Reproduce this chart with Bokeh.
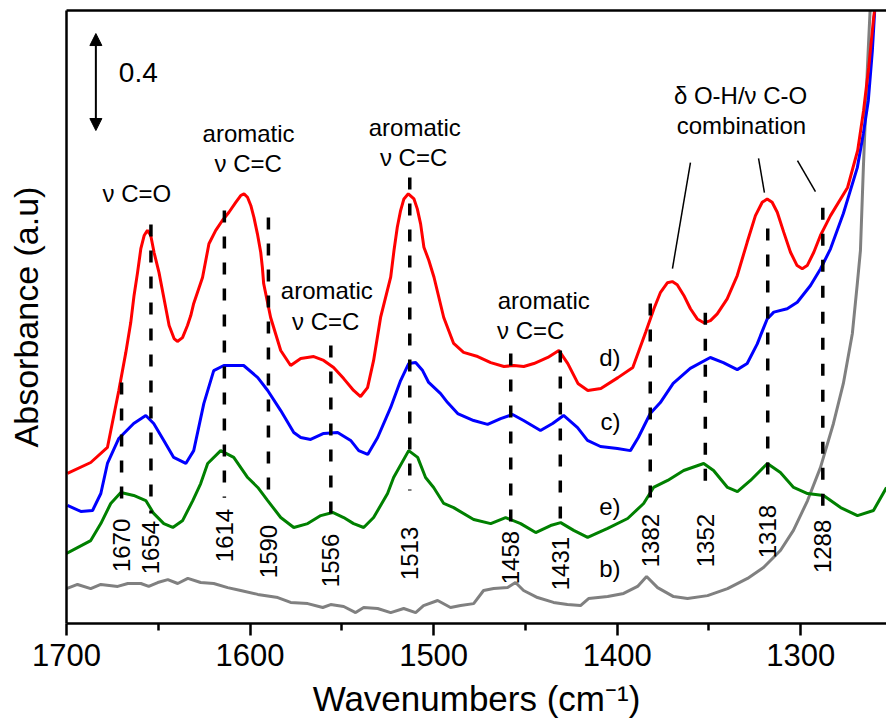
import math

from bokeh.plotting import figure
from bokeh.models import (Range1d, FixedTicker, LinearAxis, Arrow, NormalHead,
                          ColumnDataSource)
from bokeh.core.properties import value
from bokeh.embed import file_html
from bokeh.resources import INLINE

FONT = "Liberation Sans"

# ---------------------------------------------------------------- spectra
# d) red
wn_d = [1699.5, 1686.8, 1677.7, 1671.5, 1667.7, 1665.0, 1663.2, 1661.3, 1659.5, 1657.7,
        1655.9, 1654.1, 1652.3, 1649.6, 1646.9, 1644.1, 1641.4, 1639.6, 1636.8, 1634.1,
        1632.3, 1630.7, 1625.9, 1622.4, 1618.7, 1615.1, 1611.5, 1607.8, 1605.1, 1603.3,
        1601.4, 1599.6, 1597.9, 1596.0, 1594.2, 1593.3, 1592.6, 1588.8, 1583.3, 1577.9,
        1572.4, 1565.3, 1559.9, 1554.5, 1549.0, 1543.6, 1539.8, 1536.0, 1532.7, 1528.9,
        1523.4, 1521.6, 1519.8, 1518.0, 1516.2, 1513.8, 1510.7, 1508.9, 1507.1, 1505.3,
        1502.6, 1499.8, 1494.5, 1489.1, 1483.7, 1476.0, 1468.9, 1461.7, 1456.3, 1450.9,
        1445.4, 1437.8, 1431.8, 1426.9, 1421.4, 1416.0, 1408.9, 1399.6, 1391.5, 1384.5,
        1380.0, 1376.4, 1372.7, 1370.0, 1367.3, 1363.7, 1360.1, 1356.4, 1352.8, 1349.2,
        1345.5, 1340.1, 1334.6, 1329.2, 1324.7, 1321.0, 1318.3, 1315.6, 1312.8, 1309.3,
        1305.6, 1302.0, 1299.2, 1296.5, 1292.9, 1289.3, 1285.6, 1283.8, 1274.5, 1269.0,
        1265.8, 1263.0, 1260.3, 1258.7]
abs_d = [0.619, 0.664, 0.726, 0.961, 1.117, 1.241, 1.353, 1.447, 1.546, 1.600,
         1.621, 1.600, 1.530, 1.447, 1.340, 1.229, 1.175, 1.163, 1.179, 1.229,
         1.270, 1.320, 1.427, 1.566, 1.621, 1.662, 1.696, 1.737, 1.765, 1.772,
         1.758, 1.724, 1.675, 1.607, 1.531, 1.469, 1.402, 1.262, 1.126, 1.064,
         1.093, 1.101, 1.085, 1.056, 1.010, 0.961, 0.936, 0.973, 1.085, 1.262,
         1.428, 1.538, 1.634, 1.703, 1.751, 1.772, 1.751, 1.710, 1.648, 1.552,
         1.497, 1.428, 1.262, 1.155, 1.118, 1.101, 1.076, 1.060, 1.064, 1.060,
         1.072, 1.097, 1.126, 1.072, 0.990, 0.961, 0.969, 1.014, 1.056, 1.201,
         1.298, 1.366, 1.405, 1.410, 1.397, 1.353, 1.298, 1.256, 1.240, 1.249,
         1.277, 1.339, 1.435, 1.572, 1.682, 1.737, 1.751, 1.737, 1.696, 1.614,
         1.531, 1.476, 1.463, 1.476, 1.531, 1.600, 1.655, 1.682, 1.798, 1.951,
         2.115, 2.293, 2.499, 2.590]

# c) blue
wn_c = [1699.5, 1692.2, 1685.8, 1681.3, 1677.7, 1671.5, 1663.4, 1656.8, 1652.5, 1647.0,
        1641.6, 1635.0, 1630.7, 1625.2, 1619.8, 1614.3, 1603.5, 1595.8, 1590.4, 1583.3,
        1576.2, 1572.4, 1567.0, 1559.9, 1552.3, 1545.2, 1540.8, 1535.9, 1530.5, 1523.4,
        1518.0, 1513.6, 1509.8, 1506.0, 1502.7, 1496.2, 1492.4, 1486.9, 1478.2, 1470.6,
        1463.5, 1457.0, 1451.0, 1441.8, 1435.2, 1429.2, 1421.6, 1416.2, 1409.1, 1399.9,
        1392.8, 1388.5, 1382.0, 1376.5, 1369.5, 1360.2, 1349.3, 1342.2, 1334.6, 1329.2,
        1323.7, 1321.9, 1318.3, 1314.7, 1307.4, 1301.9, 1294.7, 1289.2, 1283.8, 1276.8,
        1269.2, 1265.9, 1263.2, 1261.0, 1259.4]
abs_c = [0.487, 0.462, 0.466, 0.536, 0.660, 0.763, 0.825, 0.858, 0.825, 0.755,
         0.685, 0.660, 0.713, 0.907, 1.043, 1.064, 1.064, 1.014, 0.961, 0.878,
         0.788, 0.767, 0.759, 0.784, 0.788, 0.755, 0.713, 0.697, 0.767, 0.891,
         1.002, 1.072, 1.076, 1.043, 0.994, 0.948, 0.911, 0.866, 0.837, 0.821,
         0.845, 0.862, 0.837, 0.796, 0.825, 0.858, 0.808, 0.755, 0.730, 0.722,
         0.713, 0.767, 0.866, 0.911, 0.990, 1.052, 1.097, 1.076, 1.047, 1.072,
         1.153, 1.188, 1.256, 1.284, 1.298, 1.325, 1.394, 1.463, 1.545, 1.691,
         1.880, 2.021, 2.157, 2.363, 2.569]

# e) green
wn_e = [1700.0, 1686.8, 1681.3, 1675.9, 1670.4, 1663.4, 1656.8, 1652.5, 1647.0, 1642.1,
        1636.7, 1631.2, 1626.9, 1623.1, 1616.0, 1608.9, 1601.3, 1595.8, 1590.4, 1583.3,
        1576.2, 1568.6, 1561.5, 1555.0, 1549.0, 1543.6, 1538.1, 1532.7, 1525.1, 1521.8,
        1513.6, 1508.7, 1504.4, 1500.0, 1494.5, 1489.1, 1478.2, 1468.9, 1460.8, 1452.6,
        1444.4, 1436.3, 1430.8, 1423.7, 1416.1, 1405.2, 1394.3, 1385.6, 1380.2, 1372.5,
        1363.8, 1352.9, 1347.5, 1339.9, 1334.5, 1327.4, 1318.2, 1311.1, 1303.9, 1296.3,
        1287.6, 1278.3, 1269.1, 1260.4, 1253.3]
abs_e = [0.289, 0.342, 0.412, 0.495, 0.540, 0.528, 0.507, 0.454, 0.412, 0.396,
         0.425, 0.507, 0.577, 0.660, 0.713, 0.685, 0.602, 0.561, 0.507, 0.437,
         0.396, 0.412, 0.445, 0.458, 0.437, 0.412, 0.396, 0.437, 0.536, 0.602,
         0.713, 0.685, 0.602, 0.561, 0.495, 0.478, 0.429, 0.412, 0.437, 0.412,
         0.375, 0.404, 0.416, 0.384, 0.355, 0.392, 0.433, 0.495, 0.561, 0.590,
         0.631, 0.660, 0.631, 0.561, 0.544, 0.590, 0.660, 0.623, 0.561, 0.536,
         0.528, 0.478, 0.445, 0.466, 0.561]

# b) grey
wn_b = [1700.0, 1694.0, 1686.8, 1681.3, 1672.1, 1666.6, 1659.5, 1655.2, 1650.3, 1644.8,
        1639.4, 1633.9, 1626.9, 1619.8, 1612.2, 1605.1, 1595.8, 1584.9, 1577.9, 1568.6,
        1560.4, 1556.1, 1549.0, 1542.5, 1538.1, 1530.5, 1523.4, 1516.3, 1509.8, 1505.5,
        1497.8, 1490.8, 1485.3, 1478.2, 1472.8, 1467.3, 1459.7, 1455.4, 1451.0, 1443.4,
        1434.7, 1427.1, 1420.0, 1415.6, 1405.2, 1396.5, 1388.9, 1384.0, 1378.0, 1369.3,
        1361.7, 1350.8, 1339.9, 1329.0, 1320.3, 1311.1, 1304.0, 1296.3, 1289.3, 1282.2,
        1276.8, 1271.9, 1269.2, 1267.5, 1265.9, 1263.7, 1261.8]
abs_b = [0.144, 0.161, 0.144, 0.161, 0.153, 0.165, 0.165, 0.153, 0.169, 0.181,
         0.165, 0.186, 0.169, 0.165, 0.148, 0.136, 0.120, 0.107, 0.087, 0.082,
         0.066, 0.078, 0.070, 0.045, 0.066, 0.062, 0.045, 0.062, 0.045, 0.074,
         0.095, 0.066, 0.074, 0.082, 0.136, 0.144, 0.148, 0.169, 0.136, 0.107,
         0.087, 0.078, 0.074, 0.103, 0.111, 0.124, 0.153, 0.194, 0.148, 0.111,
         0.103, 0.115, 0.144, 0.186, 0.231, 0.301, 0.384, 0.507, 0.643, 0.825,
         0.990, 1.196, 1.402, 1.538, 1.880, 2.293, 2.600]

# ------------------------------------------------------- assigned bands
peak_wn = [1670, 1654, 1614, 1590, 1556, 1513, 1458, 1431, 1382, 1352, 1318, 1288]
peak_top = [0.994, 1.645, 1.703, 1.674, 1.146, 1.839, 1.113, 1.126, 1.320, 1.282, 1.629, 1.715]
peak_bottom = [0.487, 0.454, 0.519, 0.507, 0.454, 0.548, 0.412, 0.412, 0.478, 0.557, 0.569, 0.474]
peak_label_y = [0.322, 0.313, 0.363, 0.297, 0.260, 0.289, 0.272, 0.247, 0.342, 0.342, 0.379, 0.318]
peak_labels = [str(w) for w in peak_wn]

x_major = [1700, 1600, 1500, 1400, 1300]
x_minor = [1650, 1550, 1450, 1350, 1250]

# ------------------------------------------------------------------ figure
p = figure(width=886, height=722, output_backend="svg", toolbar_location=None,
           x_range=Range1d(1700, 1253.3), y_range=Range1d(0, 2.528),
           x_axis_location=None, y_axis_location=None,
           min_border_left=66, min_border_right=0, min_border_top=10, min_border_bottom=99)
p.outline_line_color = None
p.grid.visible = False
p.background_fill_color = "white"
p.border_fill_color = "white"

xb = LinearAxis(ticker=FixedTicker(ticks=x_major, minor_ticks=x_minor))
xb.axis_line_width = 2.5
xb.major_tick_line_width = 2.5
xb.minor_tick_line_width = 2.5
xb.major_tick_out = 12
xb.major_tick_in = 0
xb.minor_tick_out = 7
xb.minor_tick_in = 0
xb.major_label_text_font = FONT
xb.major_label_text_font_size = "31px"
xb.major_label_text_color = "black"
xb.major_label_standoff = 8
xb.axis_label = "Wavenumbers (cm\u207b\u00b9)"
xb.axis_label_text_font = FONT
xb.axis_label_text_font_size = "35px"
xb.axis_label_text_font_style = "normal"
xb.axis_label_text_color = "black"
xb.axis_label_standoff = 10
p.add_layout(xb, "below")

# frame lines on top and left, without ticks
xt = LinearAxis(ticker=FixedTicker(ticks=[]))
xt.axis_line_width = 2.5
xt.major_tick_line_color = None
xt.minor_tick_line_color = None
xt.major_label_standoff = 0
p.add_layout(xt, "above")

yl = LinearAxis(ticker=FixedTicker(ticks=[]))
yl.axis_line_width = 2.5
yl.major_tick_line_color = None
yl.minor_tick_line_color = None
yl.major_label_standoff = 0
yl.axis_label = "Absorbance (a.u)"
yl.axis_label_text_font = FONT
yl.axis_label_text_font_size = "34px"
yl.axis_label_text_font_style = "normal"
yl.axis_label_text_color = "black"
yl.axis_label_standoff = 22
p.add_layout(yl, "left")

# spectra
p.line(wn_b, abs_b, line_color="#808080", line_width=3)
p.line(wn_e, abs_e, line_color="#008000", line_width=3)
p.line(wn_c, abs_c, line_color="#0000ff", line_width=3)
p.line(wn_d, abs_d, line_color="#ff0000", line_width=3)

# band positions
p.segment(x0=peak_wn, y0=peak_top, x1=peak_wn, y1=peak_bottom,
          line_color="black", line_width=3.5, line_dash="12 14")
p.text(x=peak_wn, y=peak_label_y, text=peak_labels, angle=math.pi / 2,
       text_align="center", text_baseline="middle",
       text_font=value(FONT), text_font_size="24px", text_color="black")

# band assignments
ann = ColumnDataSource(dict(
    x=[1661.7, 1600.8, 1601.0, 1510.3, 1510.9, 1558.2, 1558.8, 1440.0, 1447.1, 1332.8, 1332.3],
    y=[1.773, 2.021, 1.897, 2.045, 1.922, 1.373, 1.245, 1.332, 1.208, 2.177, 2.054],
    t=["ν C=O", "aromatic", "ν C=C", "aromatic", "ν C=C", "aromatic", "ν C=C",
       "aromatic", "ν C=C", "δ O-H/ν C-O", "combination"],
))
p.text(x="x", y="y", text="t", source=ann, text_align="center", text_baseline="middle",
       text_font=value(FONT), text_font_size="24px", text_color="black")

# leader lines to the O-H / C-O bands
p.segment(x0=[1360.1, 1323.0, 1301.8], y0=[1.901, 1.918, 1.909],
          x1=[1369.9, 1319.8, 1292.0], y1=[1.464, 1.777, 1.781],
          line_color="black", line_width=1.5)

# trace names
p.text(x=[1398.2] * 4, y=[1.097, 0.833, 0.482, 0.227], text=["d)", "c)", "e)", "b)"],
       text_align="right", text_baseline="middle",
       text_font=value(FONT), text_font_size="24px", text_color="black")

# absorbance scale bar
p.add_layout(Arrow(start=NormalHead(size=12, fill_color="black", line_color="black"),
                   end=NormalHead(size=12, fill_color="black", line_color="black"),
                   x_start=1684.0, y_start=2.033, x_end=1684.0, y_end=2.433,
                   line_width=2, line_color="black"))
p.text(x=[1671.5], y=[2.272], text=["0.4"], text_align="left", text_baseline="middle",
       text_font=value(FONT), text_font_size="28px", text_color="black")

open("out.html", "w").write(file_html(p, INLINE))
